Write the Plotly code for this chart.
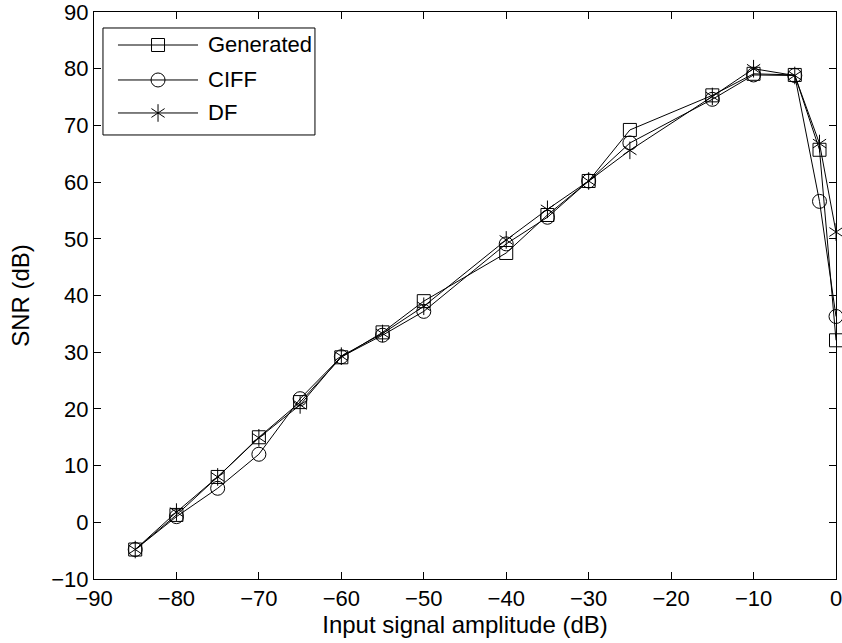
import plotly.graph_objects as go

# Input amplitude sweep (dB)
amplitude = [-85, -80, -75, -70, -65, -60, -55, -50, -40, -35, -30, -25, -15, -10, -5, -2, 0]

# Measured SNR (dB) for each modulator
snr_generated = [-4.8, 1.3, 8.0, 15.0, 21.2, 29.1, 33.5, 39.0, 47.5, 54.2, 60.2, 69.2, 75.3, 79.1, 78.9, 65.7, 32.1]
snr_ciff = [-4.8, 1.0, 6.0, 12.0, 21.8, 29.2, 33.0, 37.2, 49.1, 53.8, 60.2, 66.9, 74.6, 78.9, 78.8, 56.6, 36.3]
snr_df = [-4.8, 1.8, 8.0, 14.9, 20.7, 29.3, 33.3, 38.1, 49.8, 55.2, 60.2, 65.6, 75.1, 80.0, 78.8, 66.8, 51.2]

series_names = ["Generated", "CIFF", "DF"]
series_values = [snr_generated, snr_ciff, snr_df]
# Each series' marker is a list of symbols stacked at every point;
# the six-armed asterisk is built from an upward and a downward "y".
series_symbols = [["square-open"], ["circle-open"], ["y-up-open", "y-down-open"]]
series_sizes = [13, 14, 11]

x_ticks = list(range(-90, 1, 10))
y_ticks = list(range(-10, 91, 10))

FONT = "Liberation Sans, Arial, sans-serif"
TICK_SIZE = 22
LABEL_SIZE = 24
LEGEND_SIZE = 22


def marker_style(symbol, size):
    return dict(symbol=symbol, size=size, color="black", line=dict(color="black", width=1))


fig = go.Figure()

for name, vals, syms, sz in zip(series_names, series_values, series_symbols, series_sizes):
    fig.add_trace(go.Scatter(
        x=amplitude, y=vals, name=name, mode="lines+markers",
        line=dict(color="black", width=1),
        marker=marker_style(syms[0], sz),
        showlegend=False, cliponaxis=False,
    ))
    for extra in syms[1:]:
        fig.add_trace(go.Scatter(
            x=amplitude, y=vals, name=name, mode="markers",
            marker=marker_style(extra, sz),
            showlegend=False, cliponaxis=False, hoverinfo="skip",
        ))

# Boxed legend drawn on an overlay axis spanning the plot area (0..1 in both directions)
leg_x0, leg_x1 = 0.0121, 0.2978
leg_y0, leg_y1 = 0.7831, 0.9718
row_y = [0.9418, 0.8801, 0.8219]
line_x = [0.0323, 0.1402]
mark_x = 0.0863
text_x = 0.1510

fig.add_shape(type="rect", xref="paper", yref="paper",
              x0=leg_x0, x1=leg_x1, y0=leg_y0, y1=leg_y1,
              line=dict(color="black", width=1), fillcolor="white", layer="below")

for name, syms, sz, ry in zip(series_names, series_symbols, series_sizes, row_y):
    fig.add_trace(go.Scatter(
        x=line_x, y=[ry, ry], mode="lines", xaxis="x2", yaxis="y2",
        line=dict(color="black", width=1), showlegend=False, hoverinfo="skip",
    ))
    for sym in syms:
        fig.add_trace(go.Scatter(
            x=[mark_x], y=[ry], mode="markers", xaxis="x2", yaxis="y2",
            marker=marker_style(sym, sz),
            showlegend=False, hoverinfo="skip",
        ))
    fig.add_annotation(x=text_x, y=ry, xref="paper", yref="paper", text=name,
                       showarrow=False, xanchor="left", yanchor="middle",
                       font=dict(family=FONT, size=LEGEND_SIZE, color="black"))

axis_common = dict(
    showgrid=False, zeroline=False, showline=True, linecolor="black", linewidth=1,
    mirror="allticks", ticks="inside", ticklen=7, tickwidth=1, tickcolor="black",
    tickfont=dict(family=FONT, size=TICK_SIZE, color="black"),
    ticklabeloverflow="allow", automargin=False,
)

fig.update_layout(
    width=842, height=643, autosize=False,
    margin=dict(l=94, r=6, t=12, b=64, pad=0, autoexpand=False),
    paper_bgcolor="white", plot_bgcolor="white",
    font=dict(family=FONT, size=TICK_SIZE, color="black"),
    xaxis=dict(range=[-90, 0], tickvals=x_ticks,
               title=dict(text="Input signal amplitude (dB)", font=dict(family=FONT, size=LABEL_SIZE), standoff=4),
               **axis_common),
    yaxis=dict(range=[-10, 90], tickvals=y_ticks,
               title=dict(text="SNR (dB)", font=dict(family=FONT, size=LABEL_SIZE), standoff=14),
               **axis_common),
    xaxis2=dict(overlaying="x", anchor="y2", range=[0, 1], visible=False, fixedrange=True),
    yaxis2=dict(overlaying="y", anchor="x2", range=[0, 1], visible=False, fixedrange=True),
    showlegend=False,
)

fig.write_html("out.html")
